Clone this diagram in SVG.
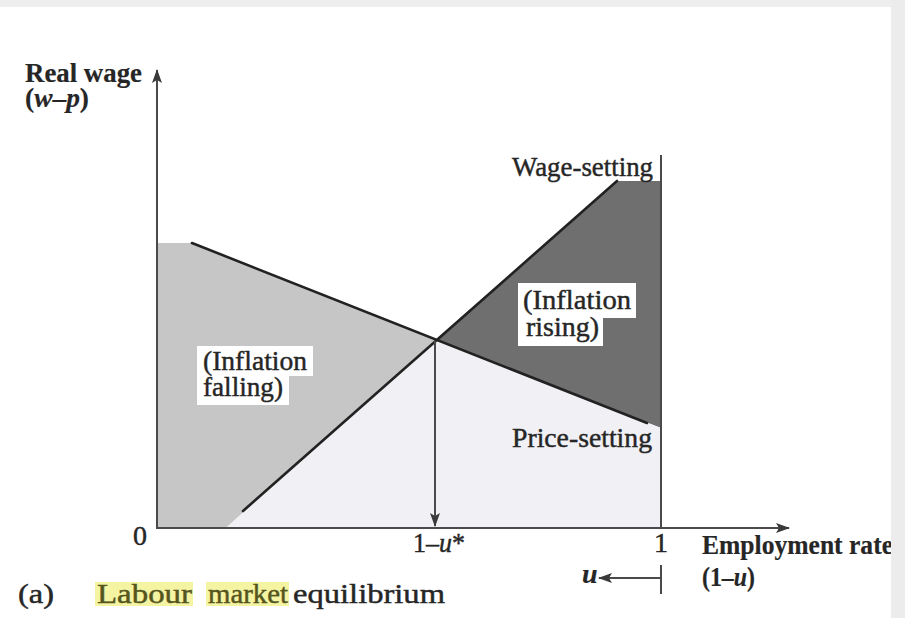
<svg xmlns="http://www.w3.org/2000/svg" width="905" height="618" viewBox="0 0 905 618">
<defs>
<style>
.t{font-family:"Liberation Serif","Times New Roman",serif;fill:#262626;stroke:#262626;stroke-width:0.45px;font-size:28px}
.b{font-weight:bold;stroke-width:0.2px}
.i{font-style:italic}
.ol{fill:#55551e;stroke:#55551e}
.ax{stroke:#4a4a4a;stroke-width:2;fill:none}
.curve{stroke:#222;stroke-width:2.6;fill:none;stroke-linecap:round}
.box{fill:#ffffff}
.hl{fill:#f4f4a2}
</style>
<marker id="ah" viewBox="0 0 14 10" refX="13" refY="5" markerWidth="14" markerHeight="10" markerUnits="userSpaceOnUse" orient="auto">
<path d="M0,0 L14,5 L0,10 L3,5 Z" fill="#3a3a3a"/>
</marker>
</defs>
<rect x="0" y="0" width="905" height="618" fill="#ffffff"/>

<g id="regions">
<polygon id="inflation-falling-area" points="158,243 192,243 435,340 227,527 158,527" fill="#c6c6c6"/>
<polygon id="inflation-rising-area" points="435,340 617,181 661,181 661,428" fill="#6f6f6f"/>
<polygon id="lower-area" points="435,340 661,428 661,527 227,527" fill="#f1f1f5"/>
</g>

<g id="connectors">
<line class="ax" x1="157" y1="528" x2="157" y2="70" marker-end="url(#ah)"/>
<line class="ax" x1="156" y1="528" x2="789" y2="528" marker-end="url(#ah)"/>
<line class="ax" x1="661" y1="155" x2="661" y2="528" stroke-width="1.8"/>
<line id="price-setting" class="curve" x1="192" y1="243" x2="647" y2="423"/>
<line id="wage-setting" class="curve" x1="243" y1="511" x2="617" y2="181"/>
<line class="ax" x1="435" y1="341" x2="435" y2="526" stroke-width="1.6" marker-end="url(#ah)"/>
<line class="ax" x1="661" y1="565" x2="661" y2="594" stroke-width="1.8"/>
<line class="ax" x1="661" y1="578" x2="599" y2="578" stroke-width="1.8" marker-end="url(#ah)"/>
</g>

<g id="label-falling">
<rect class="box" x="197" y="346" width="116" height="30"/>
<rect class="box" x="197" y="375" width="92" height="30"/>
<text class="t" x="203" y="370" textLength="104" lengthAdjust="spacingAndGlyphs">(Inflation</text>
<text class="t" x="203" y="396" textLength="80" lengthAdjust="spacingAndGlyphs">falling)</text>
</g>

<g id="label-rising">
<rect class="box" x="518" y="283" width="118" height="35"/>
<rect class="box" x="518" y="317" width="85" height="29"/>
<text class="t" x="523" y="309" textLength="108" lengthAdjust="spacingAndGlyphs">(Inflation</text>
<text class="t" x="526" y="336" textLength="73" lengthAdjust="spacingAndGlyphs">rising)</text>
</g>

<g id="label-wage-setting">
<text class="t" x="512" y="176" textLength="141" lengthAdjust="spacingAndGlyphs">Wage-setting</text>
</g>

<g id="label-price-setting">
<text class="t" x="512" y="447" textLength="140" lengthAdjust="spacingAndGlyphs">Price-setting</text>
</g>

<g id="axis-labels">
<text class="t b" x="25" y="82" font-size="25" textLength="117" lengthAdjust="spacingAndGlyphs">Real wage</text>
<text class="t b" x="25" y="107" font-size="24" textLength="64" lengthAdjust="spacingAndGlyphs">(<tspan class="i">w</tspan>–<tspan class="i">p</tspan>)</text>
<text class="t" x="133" y="545" font-size="25">0</text>
<text class="t" x="413" y="552" font-size="23" textLength="52" lengthAdjust="spacingAndGlyphs">1–<tspan class="i">u</tspan>*</text>
<text class="t" x="661" y="552" font-size="23" text-anchor="middle">1</text>
<text class="t b" x="702" y="554" font-size="24" textLength="191" lengthAdjust="spacingAndGlyphs">Employment rate</text>
<text class="t b" x="702" y="586" font-size="24" textLength="53" lengthAdjust="spacingAndGlyphs">(1–<tspan class="i">u</tspan>)</text>
<text class="t b i" x="582" y="583" font-size="22">u</text>
</g>

<g id="caption">
<rect class="hl" x="95" y="582" width="98" height="24"/>
<rect class="hl" x="206" y="582" width="83" height="24"/>
<text class="t" x="18" y="603" textLength="36" lengthAdjust="spacingAndGlyphs">(a)</text>
<text class="t ol" x="97" y="603" textLength="95" lengthAdjust="spacingAndGlyphs">Labour</text>
<text class="t ol" x="208" y="603" textLength="80" lengthAdjust="spacingAndGlyphs">market</text>
<text class="t" x="293" y="603" textLength="152" lengthAdjust="spacingAndGlyphs">equilibrium</text>
</g>

<rect x="0" y="0" width="905" height="7" fill="#eeeeee"/>
<rect x="891" y="0" width="14" height="618" fill="#ececec"/>
</svg>
